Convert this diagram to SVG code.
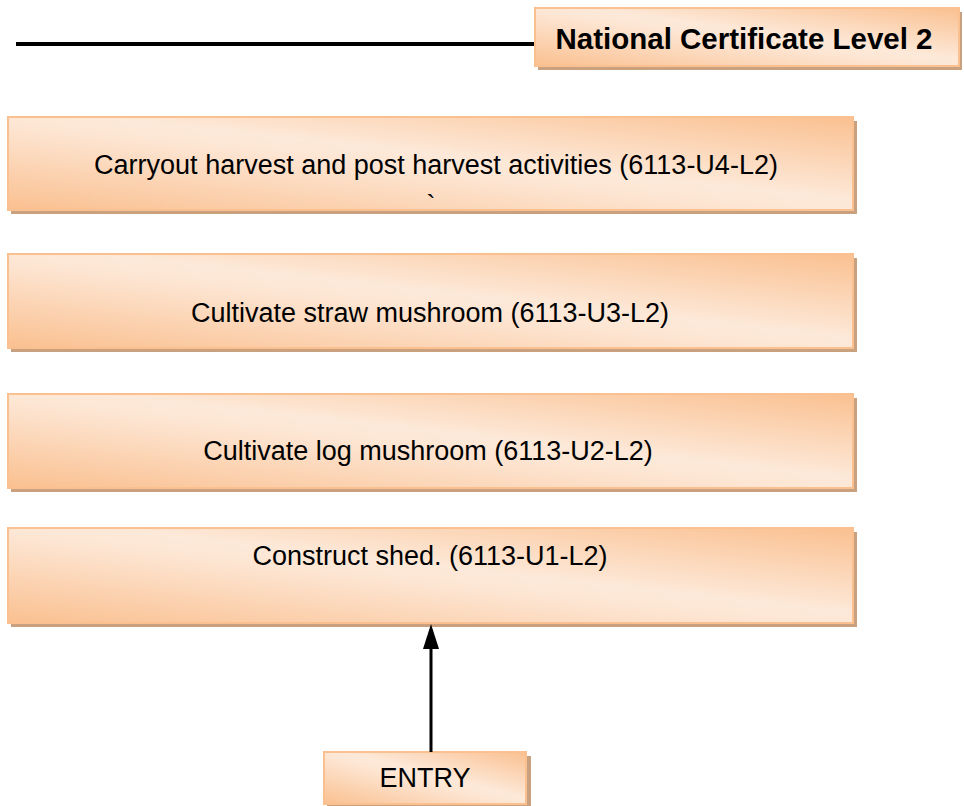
<svg xmlns="http://www.w3.org/2000/svg" width="964" height="806" viewBox="0 0 964 806">
<defs>
<linearGradient id="g" x1="1" y1="0" x2="0" y2="1">
<stop offset="0" stop-color="#FAC090"/>
<stop offset="0.45" stop-color="#FDE9D9"/>
<stop offset="0.55" stop-color="#FDE5D2"/>
<stop offset="1" stop-color="#FAC090"/>
</linearGradient>
</defs>
<style>
.sh{fill:#C9A17F}
.bx{fill:url(#g);stroke:#FAC090;stroke-width:2}
.t{font-family:"Liberation Sans",Arial,sans-serif;font-size:27px;fill:#000;text-anchor:middle}
.tb{font-family:"Liberation Sans",Arial,sans-serif;font-size:29.5px;font-weight:bold;fill:#000;text-anchor:middle}
</style>
<line x1="16" y1="44" x2="536" y2="44" stroke="#000" stroke-width="4"/>
<g id="title">
<rect class="sh" x="538" y="12" width="424" height="58"/>
<rect class="bx" x="535" y="8" width="424" height="58"/>
<text class="tb" x="744" y="49">National Certificate Level 2</text>
</g>
<g id="u4">
<rect class="sh" x="11" y="121" width="846" height="93"/>
<rect class="bx" x="8" y="117" width="845" height="93"/>
<text class="t" x="436" y="174">Carryout harvest and post harvest activities (6113-U4-L2)</text>
<text class="t" x="431" y="214">`</text>
</g>
<g id="u3">
<rect class="sh" x="11" y="258" width="846" height="94"/>
<rect class="bx" x="8" y="254" width="845" height="94"/>
<text class="t" x="430" y="322">Cultivate straw mushroom (6113-U3-L2)</text>
</g>
<g id="u2">
<rect class="sh" x="11" y="398" width="846" height="94"/>
<rect class="bx" x="8" y="394" width="845" height="94"/>
<text class="t" x="428" y="460">Cultivate log mushroom (6113-U2-L2)</text>
</g>
<g id="u1">
<rect class="sh" x="11" y="532" width="846" height="95"/>
<rect class="bx" x="8" y="528" width="845" height="95"/>
<text class="t" x="430" y="565">Construct shed. (6113-U1-L2)</text>
</g>
<g id="entry">
<rect class="sh" x="327" y="756" width="204" height="52"/>
<rect class="bx" x="324" y="752" width="202" height="52"/>
<text class="t" x="425" y="787">ENTRY</text>
</g>
<g id="connectors">
<line x1="431" y1="752" x2="431" y2="645" stroke="#000" stroke-width="3"/>
<polygon points="431,624 423,649 439,649" fill="#000"/>
</g>
</svg>
